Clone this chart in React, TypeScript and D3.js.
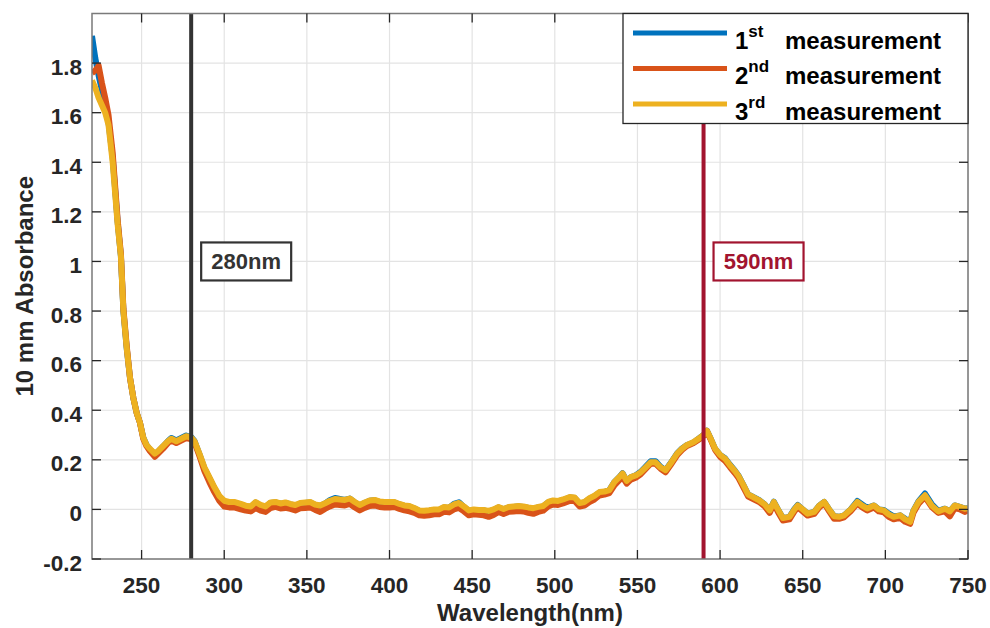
import React from 'react';
import * as d3 from 'd3';

// Wavelength (nm) / absorbance pairs
const measurement1: [number, number][] = [
  [220, 1.91], [222, 1.82], [224, 1.75], [226, 1.69], [228, 1.62], [230, 1.56], [232.5, 1.42], [235.5, 1.16], [237.5, 1.02],
  [239, 0.8], [241, 0.65], [243, 0.53], [245, 0.45], [247, 0.39], [249, 0.35], [251, 0.29], [253, 0.26], [255, 0.242],
  [258, 0.222], [260, 0.233], [263, 0.254], [266, 0.276], [268, 0.288], [271, 0.278], [274, 0.288], [277, 0.298], [280, 0.292],
  [282, 0.276], [285, 0.222], [288, 0.166], [291, 0.126], [294, 0.086], [297, 0.052], [300, 0.03], [303, 0.026], [306, 0.026],
  [310, 0.02], [313, 0.012], [316, 0.01], [319, 0.028], [322, 0.015], [325, 0.01], [328, 0.026], [331, 0.028], [334, 0.022],
  [337, 0.026], [340, 0.02], [343, 0.015], [346, 0.024], [349, 0.026], [352, 0.028], [355, 0.018], [358, 0.014], [361, 0.024],
  [364, 0.038], [367, 0.046], [370, 0.042], [373, 0.038], [376, 0.044], [379, 0.028], [382, 0.016], [385, 0.026], [388, 0.035],
  [391, 0.037], [394, 0.03], [397, 0.028], [400, 0.028], [403, 0.028], [406, 0.02], [409, 0.014], [412, 0.012], [415, 0.004],
  [418, -0.006], [421, -0.007], [424, -0.005], [427, -0.002], [430, -0.002], [433, 0.008], [436, 0.006], [439, 0.022],
  [442, 0.029], [445, 0.01], [448, -0.006], [451, -0.002], [454, -0.004], [457, -0.004], [460, -0.008], [463, -0.002],
  [466, 0.008], [469, 0.0], [472, 0.008], [475, 0.01], [478, 0.012], [481, 0.01], [484, 0.006], [487, 0.003], [490, 0.008],
  [493, 0.012], [496, 0.028], [499, 0.034], [502, 0.032], [505, 0.038], [509, 0.048], [512, 0.046], [515, 0.024], [518, 0.028],
  [521, 0.043], [524, 0.053], [527, 0.068], [530, 0.07], [533, 0.078], [536, 0.11], [539, 0.13], [541, 0.146], [543.5, 0.114],
  [546, 0.13], [549, 0.138], [552, 0.152], [555, 0.173], [558, 0.194], [561, 0.194], [564, 0.172], [567, 0.158], [570, 0.186],
  [574, 0.226], [577, 0.246], [580, 0.26], [584, 0.27], [588, 0.29], [590, 0.3], [592, 0.318], [594, 0.29], [597, 0.244],
  [600, 0.22], [603, 0.206], [606, 0.18], [609, 0.156], [611, 0.138], [614, 0.1], [617, 0.06], [620, 0.05], [624, 0.036],
  [627, 0.02], [630, -0.004], [632.5, 0.031], [635, 0.0], [638, -0.035], [642, -0.03], [645, 0.002], [647, 0.018], [650, 0.0],
  [653, -0.017], [657, -0.01], [660, 0.015], [663, 0.03], [666, 0.0], [669, -0.028], [672, -0.03], [675, -0.024], [679, 0.0],
  [683, 0.034], [686, 0.02], [689, 0.006], [693, 0.016], [696, 0.0], [699, -0.002], [702, -0.016], [705, -0.028], [709, -0.024],
  [712, -0.038], [715, -0.05], [717, -0.005], [720, 0.032], [724, 0.064], [728, 0.022], [732, -0.006], [736, 0.003],
  [739, -0.008], [742, 0.016], [745, 0.01], [748, 0.003], [750, 0.005],
];

const measurement2: [number, number][] = [
  [220, 1.76], [222, 1.77], [224, 1.79], [226, 1.72], [228, 1.66], [230, 1.59], [232.5, 1.44], [235.5, 1.17], [237.5, 1.03],
  [239, 0.81], [241, 0.66], [243, 0.53], [245, 0.45], [247, 0.39], [249, 0.35], [251, 0.285], [253, 0.255], [255, 0.235],
  [258, 0.212], [260, 0.225], [263, 0.245], [266, 0.268], [268, 0.278], [271, 0.268], [274, 0.278], [277, 0.288], [280, 0.282],
  [282, 0.27], [285, 0.215], [288, 0.155], [291, 0.11], [294, 0.07], [297, 0.035], [300, 0.012], [303, 0.008], [306, 0.008],
  [310, 0.0], [313, -0.005], [316, -0.008], [319, 0.005], [322, -0.005], [325, -0.01], [328, 0.005], [331, 0.01], [334, 0.004],
  [337, 0.006], [340, 0.002], [343, -0.004], [346, 0.005], [349, 0.006], [352, 0.008], [355, -0.002], [358, -0.01], [361, 0.002],
  [364, 0.012], [367, 0.02], [370, 0.018], [373, 0.016], [376, 0.022], [379, 0.008], [382, -0.004], [385, 0.006], [388, 0.014],
  [391, 0.016], [394, 0.01], [397, 0.008], [400, 0.008], [403, 0.01], [406, 0.002], [409, -0.004], [412, -0.008], [415, -0.014],
  [418, -0.024], [421, -0.026], [424, -0.024], [427, -0.02], [430, -0.02], [433, -0.01], [436, -0.012], [439, 0.0],
  [442, 0.006], [445, -0.008], [448, -0.024], [451, -0.02], [454, -0.022], [457, -0.024], [460, -0.03], [463, -0.022],
  [466, -0.01], [469, -0.018], [472, -0.01], [475, -0.008], [478, -0.006], [481, -0.008], [484, -0.014], [487, -0.018],
  [490, -0.01], [493, -0.005], [496, 0.012], [499, 0.02], [502, 0.018], [505, 0.024], [509, 0.034], [512, 0.034], [515, 0.012],
  [518, 0.016], [521, 0.03], [524, 0.04], [527, 0.056], [530, 0.06], [533, 0.066], [536, 0.096], [539, 0.118], [541, 0.13],
  [543.5, 0.104], [546, 0.12], [549, 0.128], [552, 0.142], [555, 0.163], [558, 0.184], [561, 0.184], [564, 0.164], [567, 0.15],
  [570, 0.178], [574, 0.218], [577, 0.24], [580, 0.256], [584, 0.268], [588, 0.285], [590, 0.296], [592, 0.315], [594, 0.286],
  [597, 0.24], [600, 0.212], [603, 0.196], [606, 0.17], [609, 0.146], [611, 0.128], [614, 0.09], [617, 0.052], [620, 0.042],
  [624, 0.028], [627, 0.012], [630, -0.014], [632.5, 0.022], [635, -0.01], [638, -0.045], [642, -0.04], [645, -0.008],
  [647, 0.008], [650, -0.008], [653, -0.025], [657, -0.018], [660, 0.008], [663, 0.024], [666, -0.008], [669, -0.038],
  [672, -0.038], [675, -0.032], [679, -0.008], [683, 0.024], [686, 0.008], [689, -0.004], [693, 0.008], [696, -0.008],
  [699, -0.012], [702, -0.03], [705, -0.04], [709, -0.034], [712, -0.05], [715, -0.058], [717, -0.014], [720, 0.022],
  [724, 0.05], [728, 0.01], [732, -0.014], [736, -0.008], [739, -0.028], [742, 0.005], [745, 0.0], [748, -0.01], [750, -0.005],
];

const measurement3: [number, number][] = [
  [220, 1.73], [222, 1.7], [224, 1.66], [226, 1.63], [228, 1.6], [230, 1.55], [232.5, 1.4], [235.5, 1.15], [237.5, 1.02],
  [239, 0.8], [241, 0.65], [243, 0.53], [245, 0.45], [247, 0.39], [249, 0.35], [251, 0.29], [253, 0.26], [255, 0.245],
  [258, 0.225], [260, 0.235], [263, 0.255], [266, 0.275], [268, 0.285], [271, 0.275], [274, 0.285], [277, 0.295], [280, 0.29],
  [282, 0.275], [285, 0.225], [288, 0.17], [291, 0.13], [294, 0.09], [297, 0.055], [300, 0.035], [303, 0.03], [306, 0.03],
  [310, 0.022], [313, 0.015], [316, 0.012], [319, 0.03], [322, 0.018], [325, 0.012], [328, 0.028], [331, 0.03], [334, 0.024],
  [337, 0.028], [340, 0.022], [343, 0.018], [346, 0.026], [349, 0.028], [352, 0.03], [355, 0.02], [358, 0.016], [361, 0.025],
  [364, 0.035], [367, 0.042], [370, 0.04], [373, 0.038], [376, 0.044], [379, 0.03], [382, 0.018], [385, 0.028], [388, 0.036],
  [391, 0.038], [394, 0.032], [397, 0.03], [400, 0.03], [403, 0.03], [406, 0.022], [409, 0.016], [412, 0.014], [415, 0.006],
  [418, -0.004], [421, -0.005], [424, -0.003], [427, 0.0], [430, 0.0], [433, 0.01], [436, 0.008], [439, 0.02], [442, 0.026],
  [445, 0.012], [448, -0.004], [451, 0.0], [454, -0.002], [457, -0.002], [460, -0.006], [463, 0.0], [466, 0.01], [469, 0.002],
  [472, 0.01], [475, 0.012], [478, 0.014], [481, 0.012], [484, 0.008], [487, 0.005], [490, 0.01], [493, 0.014], [496, 0.03],
  [499, 0.036], [502, 0.034], [505, 0.04], [509, 0.05], [512, 0.048], [515, 0.026], [518, 0.03], [521, 0.045], [524, 0.055],
  [527, 0.07], [530, 0.072], [533, 0.078], [536, 0.11], [539, 0.13], [541, 0.145], [543.5, 0.115], [546, 0.13], [549, 0.137],
  [552, 0.15], [555, 0.17], [558, 0.19], [561, 0.19], [564, 0.17], [567, 0.158], [570, 0.185], [574, 0.225], [577, 0.245],
  [580, 0.26], [584, 0.272], [588, 0.29], [590, 0.3], [592, 0.318], [594, 0.29], [597, 0.245], [600, 0.22], [603, 0.205],
  [606, 0.178], [609, 0.155], [611, 0.137], [614, 0.1], [617, 0.06], [620, 0.05], [624, 0.035], [627, 0.02], [630, -0.004],
  [632.5, 0.03], [635, 0.0], [638, -0.035], [642, -0.03], [645, 0.0], [647, 0.016], [650, 0.0], [653, -0.017], [657, -0.01],
  [660, 0.015], [663, 0.03], [666, 0.0], [669, -0.028], [672, -0.03], [675, -0.024], [679, 0.0], [683, 0.03], [686, 0.015],
  [689, 0.004], [693, 0.016], [696, 0.0], [699, -0.004], [702, -0.02], [705, -0.03], [709, -0.024], [712, -0.04], [715, -0.05],
  [717, -0.005], [720, 0.03], [724, 0.057], [728, 0.016], [732, -0.008], [736, 0.003], [739, -0.008], [742, 0.016],
  [745, 0.01], [748, 0.003], [750, 0.005],
];

const seriesOrdinals = ['1', '2', '3'];
const seriesSuffixes = ['st', 'nd', 'rd'];
const seriesColors = ['#0072BD', '#D95319', '#EDB120'];

const xTicks = [250, 300, 350, 400, 450, 500, 550, 600, 650, 700, 750];
const yTicks = [-0.2, 0, 0.2, 0.4, 0.6, 0.8, 1, 1.2, 1.4, 1.6, 1.8];
const yTickLabels = ['-0.2', '0', '0.2', '0.4', '0.6', '0.8', '1', '1.2', '1.4', '1.6', '1.8'];

const markerWavelengths = [280, 590];
const markerLabels = ['280nm', '590nm'];
const markerColors = ['#333333', '#A2142F'];

const FONT = '"Liberation Sans", Arial, Helvetica, sans-serif';

export default function App() {
  const W = 990;
  const H = 628;
  const left = 92;
  const right = 968;
  const top = 13.5;
  const bottom = 559;

  const x = d3.scaleLinear().domain([220, 750]).range([left, right]);
  const y = d3.scaleLinear().domain([-0.2, 2.0]).range([bottom, top]);

  const line = d3
    .line<[number, number]>()
    .x((d) => x(d[0]))
    .y((d) => y(d[1]))
    .curve(d3.curveLinear);

  const series = [measurement1, measurement2, measurement3];
  const gridTicksY = [...yTicks, 2.0];

  return (
    <svg
      width={W}
      height={H}
      viewBox={`0 0 ${W} ${H}`}
      style={{ position: 'absolute', left: 0, top: 0, background: '#fff' }}
      fontFamily={FONT}
    >
      <rect x={0} y={0} width={W} height={H} fill="#fff" />
      {/* grid */}
      <g stroke="#e3e3e3" strokeWidth={1.2}>
        {xTicks.map((t) => (
          <line key={'gx' + t} x1={x(t)} x2={x(t)} y1={top} y2={bottom} />
        ))}
        {gridTicksY.map((t) => (
          <line key={'gy' + t} x1={left} x2={right} y1={y(t)} y2={y(t)} />
        ))}
      </g>
      {/* series */}
      <defs>
        <clipPath id="plotClip">
          <rect x={left} y={top} width={right - left} height={bottom - top} />
        </clipPath>
      </defs>
      <g clipPath="url(#plotClip)">
        {series.map((s, i) => (
          <path
            key={'s' + i}
            d={line(s) || ''}
            fill="none"
            stroke={seriesColors[i]}
            strokeWidth={6}
            strokeLinejoin="round"
            strokeLinecap="butt"
          />
        ))}
      </g>
      {/* marker lines */}
      {markerWavelengths.map((w, i) => (
        <line
          key={'m' + w}
          x1={x(w)}
          x2={x(w)}
          y1={top}
          y2={bottom}
          stroke={markerColors[i]}
          strokeWidth={4}
        />
      ))}
      {/* marker labels */}
      {markerWavelengths.map((w, i) => (
        <g key={'ml' + w}>
          <rect
            x={x(w) + 10}
            y={y(1) - 19}
            width={90}
            height={38}
            fill="#fff"
            stroke={markerColors[i]}
            strokeWidth={2.2}
          />
          <text
            x={x(w) + 55}
            y={y(1) + 8}
            textAnchor="middle"
            fontSize={22}
            fontWeight="bold"
            fill={markerColors[i]}
          >
            {markerLabels[i]}
          </text>
        </g>
      ))}
      {/* axes box */}
      <rect x={left} y={top} width={right - left} height={bottom - top} fill="none" stroke="#7a7a7a" strokeWidth={1.5} />
      {/* ticks */}
      <g stroke="#262626" strokeWidth={1.3}>
        {xTicks.map((t) => (
          <g key={'tx' + t}>
            <line x1={x(t)} x2={x(t)} y1={bottom} y2={bottom - 9} />
            <line x1={x(t)} x2={x(t)} y1={top} y2={top + 9} />
          </g>
        ))}
        {yTicks.map((t) => (
          <g key={'ty' + t}>
            <line x1={left} x2={left + 9} y1={y(t)} y2={y(t)} />
            <line x1={right} x2={right - 9} y1={y(t)} y2={y(t)} />
          </g>
        ))}
      </g>
      {/* tick labels */}
      <g fontSize={22.5} fontWeight="bold" fill="#262626">
        {xTicks.map((t) => (
          <text key={'lx' + t} x={x(t)} y={593} textAnchor="middle">
            {d3.format('d')(t)}
          </text>
        ))}
        {yTicks.map((t, i) => (
          <text key={'ly' + t} x={left - 10} y={y(t) + 11.5} textAnchor="end">
            {yTickLabels[i]}
          </text>
        ))}
      </g>
      {/* axis titles */}
      <text
        x={(left + right) / 2}
        y={621}
        textAnchor="middle"
        fontSize={24}
        fontWeight="bold"
        fill="#262626"
      >
        Wavelength(nm)
      </text>
      <text
        transform={`translate(33, ${(top + bottom) / 2}) rotate(-90)`}
        textAnchor="middle"
        fontSize={24}
        fontWeight="bold"
        fill="#262626"
      >
        10 mm Absorbance
      </text>
      {/* legend */}
      <g>
        <rect x={623} y={top} width={right - 623} height={110} fill="#fff" stroke="#262626" strokeWidth={1.3} />
        {seriesColors.map((c, i) => {
          const ly = 33 + i * 35.5;
          return (
            <g key={'lg' + i}>
              <line x1={633} x2={727} y1={ly} y2={ly} stroke={c} strokeWidth={5} />
              <text x={735} y={ly + 15.5} fontSize={24} fontWeight="bold" fill="#000">
                {seriesOrdinals[i]}
                <tspan fontSize={17} dy={-12}>
                  {seriesSuffixes[i]}
                </tspan>
                <tspan x={785} dy={12}>
                  measurement
                </tspan>
              </text>
            </g>
          );
        })}
      </g>
    </svg>
  );
}
